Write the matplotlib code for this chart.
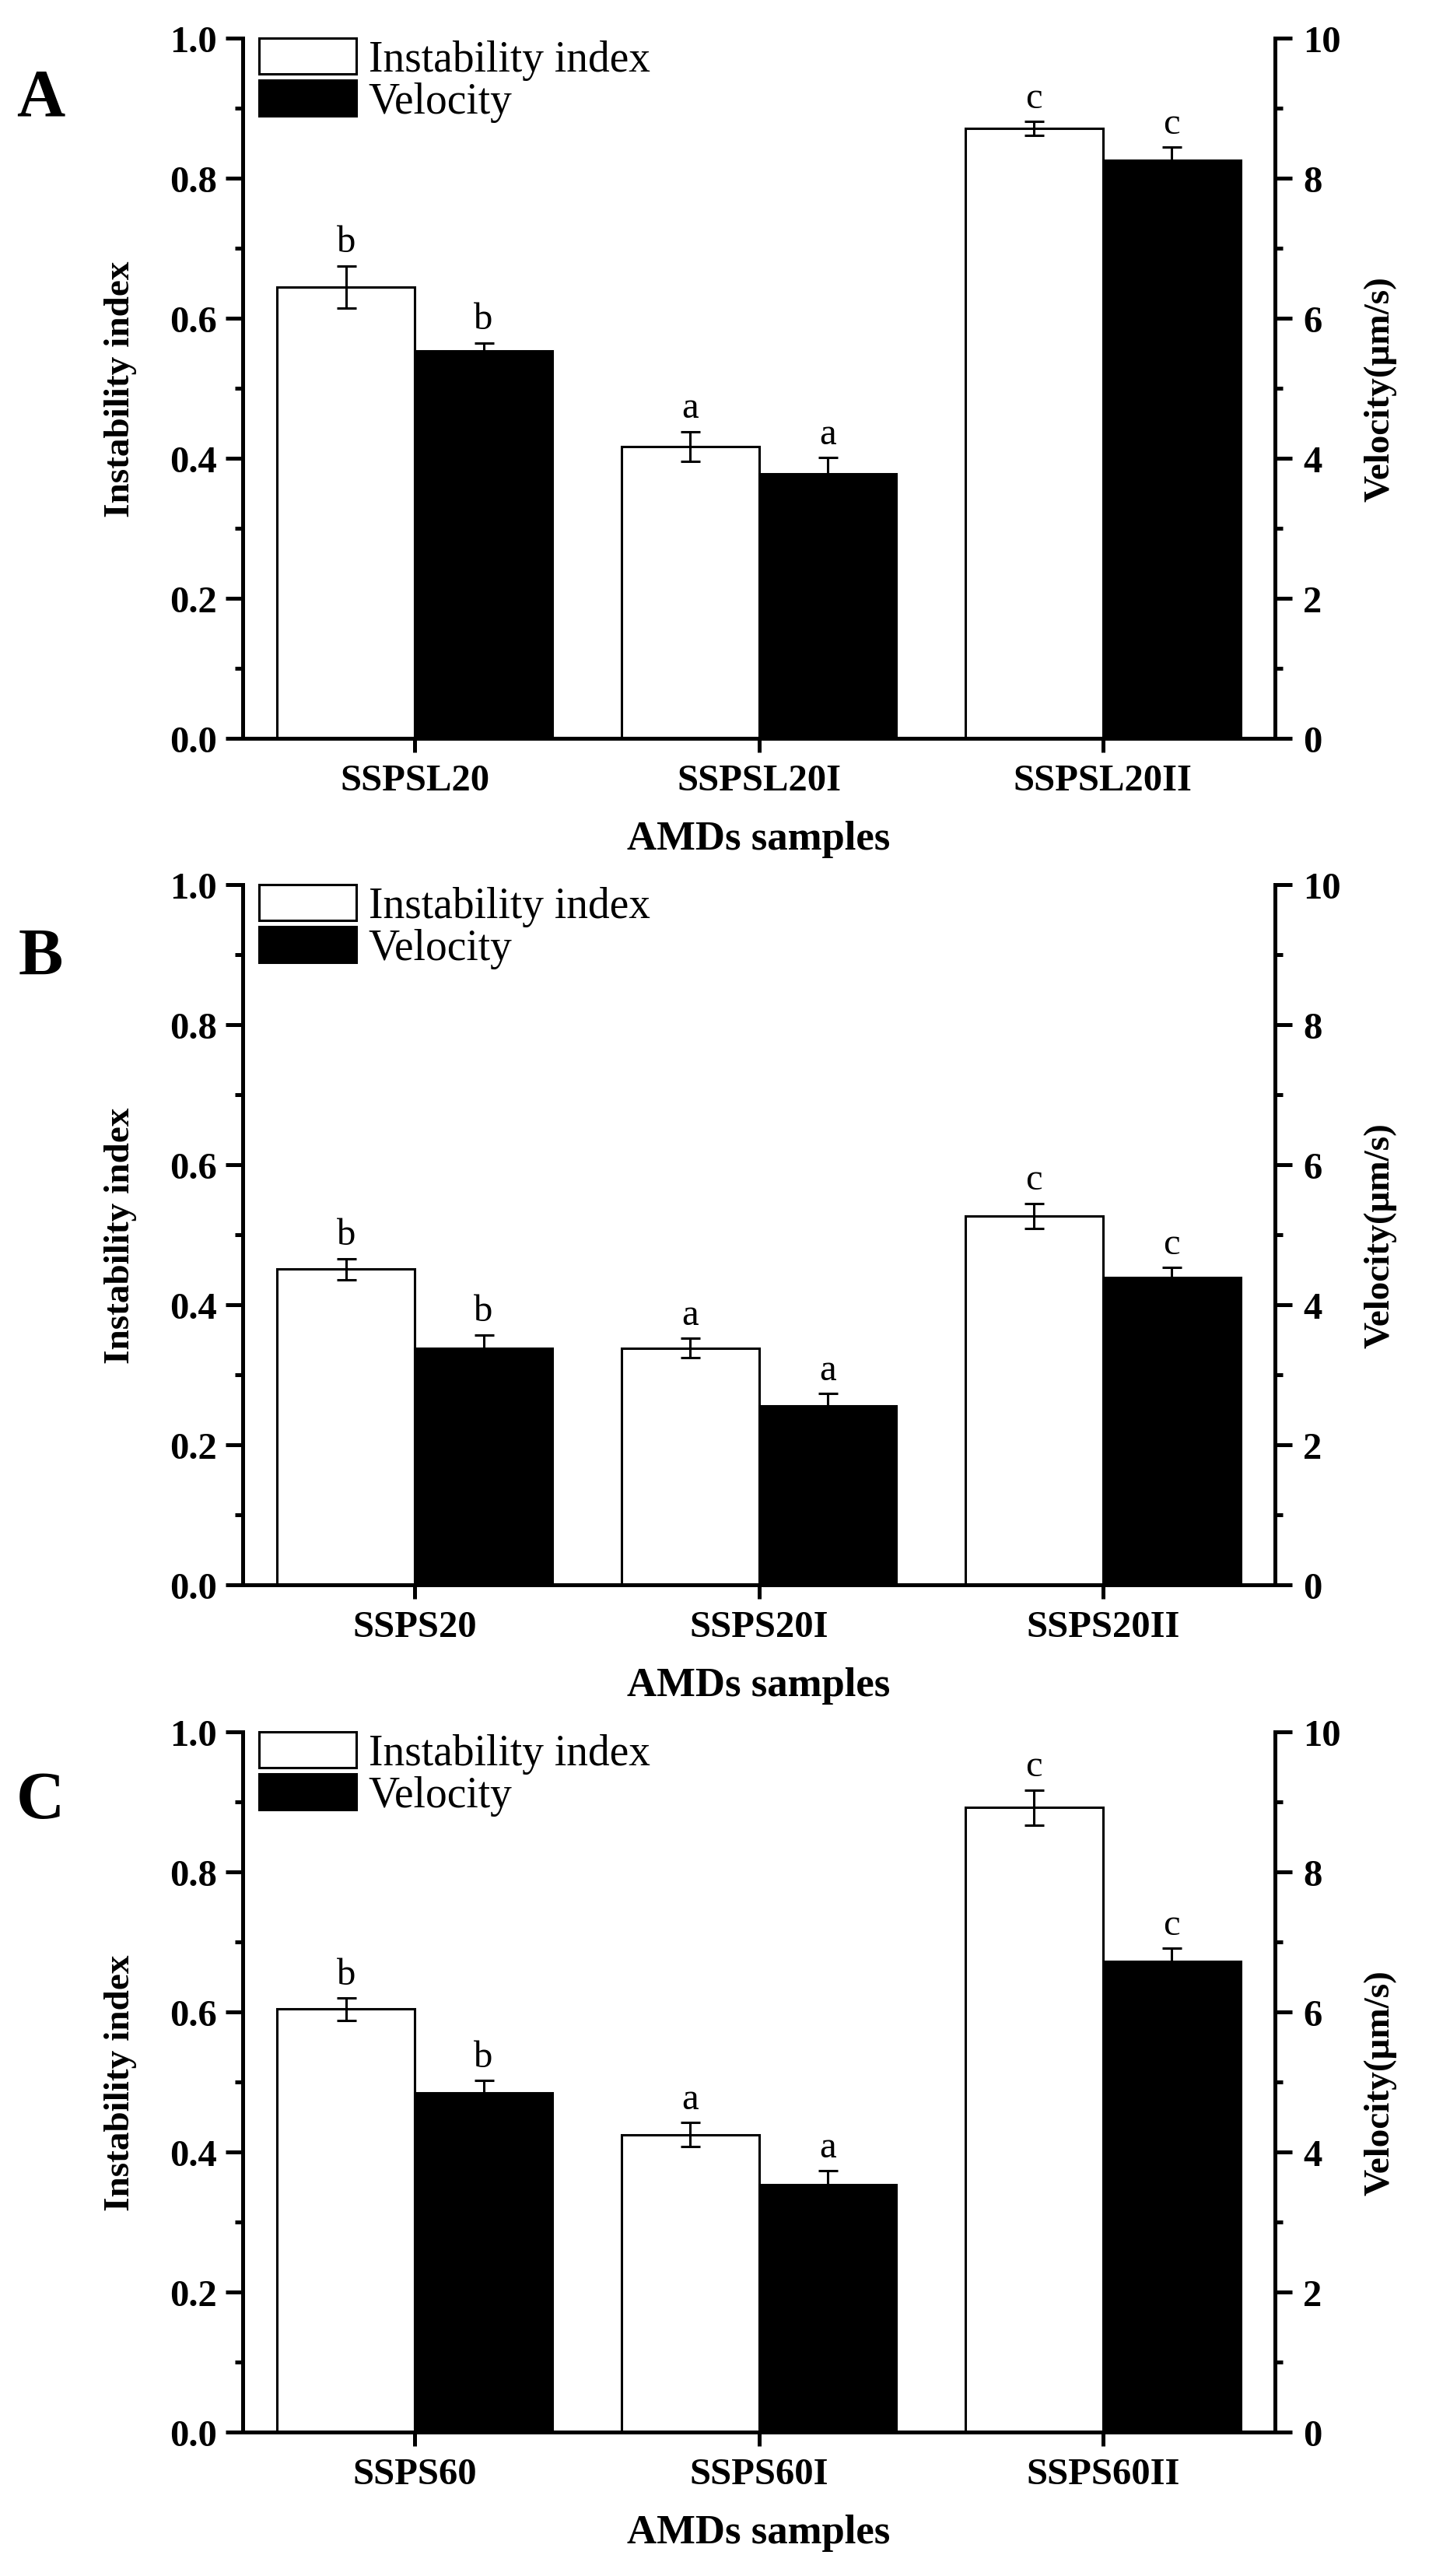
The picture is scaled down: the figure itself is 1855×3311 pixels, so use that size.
import matplotlib

matplotlib.use("Agg")
import matplotlib.pyplot as plt
import numpy as np
from matplotlib.ticker import MultipleLocator

plt.rcParams["font.family"] = ["Liberation Serif", "DejaVu Serif"]
plt.rcParams["font.weight"] = "bold"

# * data
panel_names = ["A", "B", "C"]
sample_names = [
    ["SSPSL20", "SSPSL20I", "SSPSL20II"],
    ["SSPS20", "SSPS20I", "SSPS20II"],
    ["SSPS60", "SSPS60I", "SSPS60II"],
]
instability = [
    [0.645, 0.417, 0.871],
    [0.451, 0.338, 0.527],
    [0.604, 0.425, 0.892],
]
instability_err = [
    [0.030, 0.021, 0.010],
    [0.015, 0.014, 0.018],
    [0.016, 0.017, 0.025],
]
velocity = [
    [5.53, 3.78, 8.26],
    [3.38, 2.56, 4.39],
    [4.85, 3.53, 6.72],
]
velocity_err = [
    [0.12, 0.23, 0.18],
    [0.19, 0.17, 0.14],
    [0.17, 0.20, 0.19],
]
letters = ["b", "a", "c"]

# * layout (pixels of the 1855x3312 target)
W, H = 1855, 3312
ax_left, ax_right = 312, 1639
ax_tops = [50, 1138, 2227]
ax_h = 900
letter_y = [0.913, 0.895, 0.900]

LW_SPINE = 3.6
LW_BAR = 2.2
TICK_SIZE = 35

fig = plt.figure(figsize=(W / 100, H / 100), dpi=100)

for i, name in enumerate(panel_names):
    top = ax_tops[i]
    ax = fig.add_axes(
        [ax_left / W, 1 - (top + ax_h) / H, (ax_right - ax_left) / W, ax_h / H]
    )
    ax2 = ax.twinx()

    x = np.arange(1, len(sample_names[i]) + 1)
    width = 0.4

    b1 = ax.bar(
        x - width / 2,
        instability[i],
        width,
        color="white",
        edgecolor="black",
        linewidth=LW_BAR,
        label="Instability index",
    )
    ax.errorbar(
        x - width / 2,
        instability[i],
        yerr=instability_err[i],
        fmt="none",
        ecolor="black",
        elinewidth=LW_BAR,
        capsize=9,
        capthick=LW_BAR,
    )
    b2 = ax2.bar(
        x + width / 2,
        velocity[i],
        width,
        color="black",
        edgecolor="black",
        linewidth=LW_BAR,
        label="Velocity",
    )
    ax2.errorbar(
        x + width / 2,
        velocity[i],
        yerr=velocity_err[i],
        fmt="none",
        ecolor="black",
        elinewidth=LW_BAR,
        capsize=9,
        capthick=LW_BAR,
    )

    # significance letters
    for xi, yi, ei, lt in zip(x, instability[i], instability_err[i], letters):
        ax.annotate(
            lt, (xi - width / 2, yi + ei), xytext=(0, 6), textcoords="offset points",
            ha="center", va="bottom", fontsize=35, fontweight="normal",
        )
    for xi, yi, ei, lt in zip(x, velocity[i], velocity_err[i], letters):
        ax2.annotate(
            lt, (xi + width / 2, yi + ei), xytext=(0, 6), textcoords="offset points",
            ha="center", va="bottom", fontsize=35, fontweight="normal",
        )

    # axes
    ax.set_xlim(0.5, 3.5)
    ax.set_ylim(0, 1.0)
    ax2.set_ylim(0, 10)
    ax.set_xticks(x)
    ax.set_xticklabels(sample_names[i])
    ax.yaxis.set_major_locator(MultipleLocator(0.2))
    ax.yaxis.set_minor_locator(MultipleLocator(0.1))
    ax.yaxis.set_major_formatter(plt.FormatStrFormatter("%.1f"))
    ax2.yaxis.set_major_locator(MultipleLocator(2))
    ax2.yaxis.set_minor_locator(MultipleLocator(1))

    for a in (ax, ax2):
        a.spines["top"].set_visible(False)
        for s in a.spines.values():
            s.set_linewidth(LW_SPINE)
    ax.spines["right"].set_visible(False)
    ax2.spines["left"].set_visible(False)
    ax2.spines["bottom"].set_visible(False)

    ax.tick_params(axis="y", which="major", direction="out", length=16,
                   width=LW_SPINE, labelsize=TICK_SIZE, pad=8)
    ax.tick_params(axis="y", which="minor", direction="out", length=7, width=LW_SPINE)
    ax.tick_params(axis="x", which="major", direction="out", length=13,
                   width=LW_SPINE, labelsize=TICK_SIZE, pad=10)
    ax2.tick_params(axis="y", which="major", direction="out", length=16,
                    width=LW_SPINE, labelsize=TICK_SIZE, pad=10)
    ax2.tick_params(axis="y", which="minor", direction="out", length=7, width=LW_SPINE)

    # labels
    ax.text(-0.118, 0.5, "Instability index", transform=ax.transAxes, rotation=90,
            ha="center", va="center", fontsize=34)
    ax.text(1.1018, 0.5, "Velocity(μm/s)", transform=ax.transAxes, rotation=90,
            ha="center", va="center", fontsize=34)
    ax.text(0.5, -0.1433, "AMDs samples", transform=ax.transAxes,
            ha="center", va="center", fontsize=38)
    ax.text(-0.196, letter_y[i], name, transform=ax.transAxes,
            ha="center", va="center", fontsize=62)

    ax2.legend(
        [b1, b2], ["Instability index", "Velocity"],
        loc="upper left", bbox_to_anchor=(0.016, 1.0), frameon=False,
        prop={"size": 40, "weight": "normal"},
        handlelength=2.25, handleheight=0.9, handletextpad=0.28,
        labelspacing=0.0, borderpad=0, borderaxespad=0,
    )

fig.savefig("out.png", dpi=100)
